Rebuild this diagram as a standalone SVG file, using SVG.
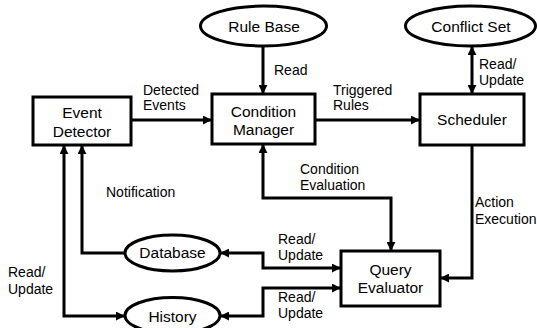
<svg xmlns="http://www.w3.org/2000/svg" width="537" height="328" viewBox="0 0 537 328">
  <style>
    .box { fill: #fff; stroke: #000; stroke-width: 3; }
    .node-text { font-family: "Liberation Sans", Arial, sans-serif; font-size: 15.5px; fill: #000; text-anchor: middle; }
    .label { font-family: "Liberation Sans", Arial, sans-serif; font-size: 14px; fill: #000; }
    .wire { fill: none; stroke: #000; stroke-width: 3; }
  </style>
  <defs>
    <marker id="arrow" viewBox="0 0 10 10" refX="9" refY="5" markerWidth="3" markerHeight="3" orient="auto-start-reverse" markerUnits="strokeWidth">
      <path d="M0,0 L10,5 L0,10 z" fill="#000"/>
    </marker>
  </defs>

  <rect width="537" height="328" fill="#fff"/>

  <!-- connectors -->
  <g id="connectors">
    <line class="wire" x1="263" y1="46" x2="263" y2="93" marker-end="url(#arrow)"/>
    <line class="wire" x1="472" y1="47" x2="472" y2="93" marker-start="url(#arrow)" marker-end="url(#arrow)"/>
    <line class="wire" x1="131" y1="120" x2="211" y2="120" marker-end="url(#arrow)"/>
    <line class="wire" x1="315" y1="120" x2="419" y2="120" marker-end="url(#arrow)"/>
    <path class="wire" d="M263,145 V198 H391 V250" marker-start="url(#arrow)" marker-end="url(#arrow)"/>
    <path class="wire" d="M472,145 V278 H441" marker-end="url(#arrow)"/>
    <path class="wire" d="M221,253 H263 V268 H340" marker-start="url(#arrow)" marker-end="url(#arrow)"/>
    <path class="wire" d="M221,316 H263 V288 H340" marker-start="url(#arrow)" marker-end="url(#arrow)"/>
    <path class="wire" d="M64,146 V316 H124" marker-start="url(#arrow)" marker-end="url(#arrow)"/>
    <path class="wire" d="M82,146 V253 H125" marker-start="url(#arrow)"/>
  </g>

  <!-- connector labels -->
  <g id="labels">
    <text class="label" x="143" y="95">Detected</text>
    <text class="label" x="143" y="110">Events</text>
    <text class="label" x="274" y="75">Read</text>
    <text class="label" x="333" y="95">Triggered</text>
    <text class="label" x="333" y="110">Rules</text>
    <text class="label" x="479" y="69">Read/</text>
    <text class="label" x="479" y="85">Update</text>
    <text class="label" x="300" y="174">Condition</text>
    <text class="label" x="300" y="190">Evaluation</text>
    <text class="label" x="475" y="207">Action</text>
    <text class="label" x="475" y="224">Execution</text>
    <text class="label" x="106" y="197">Notification</text>
    <text class="label" x="278" y="244">Read/</text>
    <text class="label" x="278" y="260">Update</text>
    <text class="label" x="278" y="302">Read/</text>
    <text class="label" x="278" y="318">Update</text>
    <text class="label" x="8" y="277">Read/</text>
    <text class="label" x="8" y="294">Update</text>
  </g>

  <!-- nodes -->
  <g id="rule-base">
    <ellipse class="box" cx="263.5" cy="26" rx="63" ry="20"/>
    <text class="node-text" x="264" y="32">Rule Base</text>
  </g>
  <g id="conflict-set">
    <ellipse class="box" cx="470.5" cy="26" rx="65" ry="20"/>
    <text class="node-text" x="471" y="32">Conflict Set</text>
  </g>
  <g id="event-detector">
    <rect class="box" x="33" y="97" width="98" height="48"/>
    <text class="node-text" x="82" y="118">Event</text>
    <text class="node-text" x="82" y="137">Detector</text>
  </g>
  <g id="condition-manager">
    <rect class="box" x="212" y="94" width="103" height="50"/>
    <text class="node-text" x="263.5" y="117">Condition</text>
    <text class="node-text" x="263.5" y="135">Manager</text>
  </g>
  <g id="scheduler">
    <rect class="box" x="420" y="94" width="104" height="51"/>
    <text class="node-text" x="472" y="125">Scheduler</text>
  </g>
  <g id="query-evaluator">
    <rect class="box" x="341" y="251" width="99" height="55"/>
    <text class="node-text" x="390.5" y="275">Query</text>
    <text class="node-text" x="390.5" y="293">Evaluator</text>
  </g>
  <g id="database">
    <ellipse class="box" cx="172.5" cy="253" rx="47.5" ry="18"/>
    <text class="node-text" x="172.5" y="258">Database</text>
  </g>
  <g id="history">
    <ellipse class="box" cx="172.5" cy="315.5" rx="47.5" ry="18"/>
    <text class="node-text" x="172.5" y="322">History</text>
  </g>
</svg>
